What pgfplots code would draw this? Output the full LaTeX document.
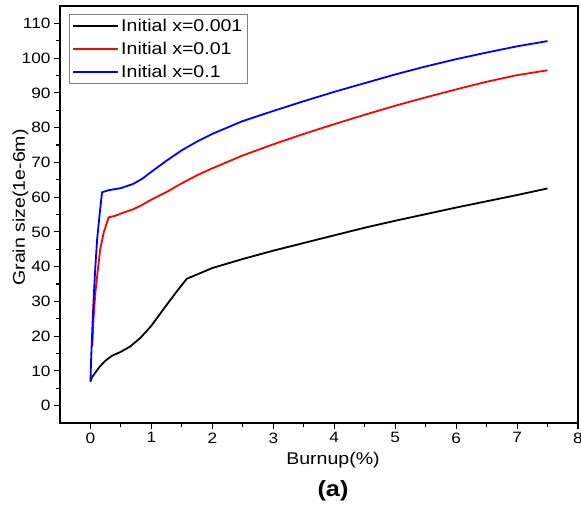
\documentclass[border=0pt]{standalone}
\usepackage{fontspec}
\setmainfont{Liberation Sans}[FakeStretch=1.15]
\usepackage{pgfplots}
\pgfplotsset{compat=1.18}
\begin{document}
\begin{tikzpicture}
\begin{axis}[
 name=ax,
 scale only axis, width=518pt, height=417pt,
 xmin=-0.5, xmax=8, ymin=-5, ymax=115,
 xtick={0,1,...,8}, ytick={0,10,...,110},
 minor x tick num=1, minor y tick num=1,
 xtick pos=bottom, ytick pos=left,
 tick align=outside,
 major tick length=6pt, minor tick length=3.5pt,
 axis line style={line width=1.3pt},
 every tick/.style={black, line width=1.1pt},
 tick label style={font=\fontsize{15}{17}\selectfont},
 /pgf/number format/assume math mode=true,
 xlabel={Burnup(\%)}, ylabel={Grain size(1e-6m)},
 label style={font=\fontsize{17}{19}\selectfont},
 xlabel style={at={(rel axis cs:0.527,0)}, anchor=north, yshift=-26pt},
 ylabel style={at={(rel axis cs:-0.054,0.517)}, anchor=south},
 legend style={at={(rel axis cs:0.0174,0.981)}, anchor=north west, draw=gray, line width=0.8pt,
   font=\fontsize{17}{19}\selectfont, row sep=5pt, inner sep=3pt},
 legend cell align=left,
 legend image code/.code={\draw[#1, line width=1.8pt] (0pt,0pt) -- (45pt,0pt);},
 clip=false,
]
\addplot[black, line width=1.8pt] coordinates {
(0,6.9)(0.02,8)(0.08,9.5)(0.15,11.2)(0.25,13)(0.35,14.3)(0.5,15.5)(0.65,17)(0.82,19.5)(1.0,23)(1.2,27.8)(1.4,32.5)(1.58,36.5)(2.0,39.6)(2.5,42.2)(3.0,44.6)(3.5,46.8)(4.0,49)(4.5,51.2)(5.0,53.2)(5.5,55.1)(6.0,57)(6.5,58.8)(7.0,60.6)(7.5,62.5)};
\addlegendentry{Initial x=0.001}
\addplot[red, line width=1.8pt] coordinates {
(0.03,17)(0.05,25)(0.08,32.4)(0.12,39)(0.16,45)(0.22,50)(0.3,54.2)(0.4,54.6)(0.55,55.6)(0.7,56.5)(0.85,57.8)(1.0,59.3)(1.25,61.5)(1.5,64)(1.75,66.3)(2.0,68.3)(2.5,72)(3.0,75.2)(3.5,78.2)(4.0,81)(4.5,83.7)(5.0,86.3)(5.5,88.7)(6.0,91)(6.5,93.2)(7.0,95.1)(7.5,96.5)};
\addlegendentry{Initial x=0.01}
\addplot[blue, line width=1.8pt] coordinates {
(0,7)(0.01,13)(0.03,22)(0.05,30)(0.08,40)(0.11,48)(0.15,55)(0.19,61.4)(0.3,62)(0.5,62.6)(0.7,63.8)(0.85,65.3)(1.0,67.3)(1.25,70.5)(1.5,73.5)(1.75,76)(2.0,78.2)(2.5,81.9)(3.0,84.8)(3.5,87.6)(4.0,90.3)(4.5,92.8)(5.0,95.3)(5.5,97.6)(6.0,99.7)(6.5,101.6)(7.0,103.4)(7.5,104.9)};
\addlegendentry{Initial x=0.1}
\node[font=\bfseries\fontsize{22}{24}\selectfont] at ([yshift=-68pt]rel axis cs:0.527,0) {(a)};
\end{axis}
\pgfresetboundingbox
\path ([xshift=-60pt,yshift=-89pt]ax.south west) rectangle ([xshift=3pt,yshift=6pt]ax.north east);
\end{tikzpicture}
\end{document}
